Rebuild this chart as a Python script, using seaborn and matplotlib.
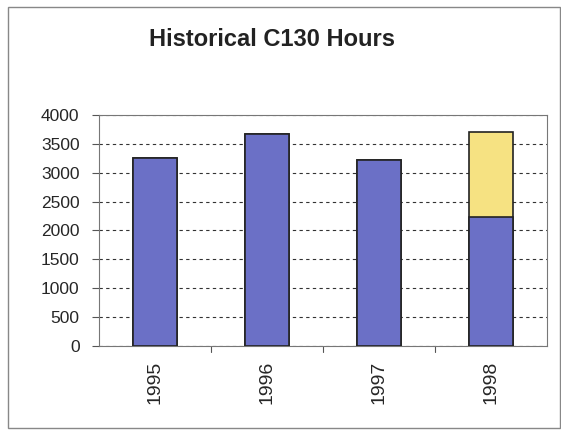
import matplotlib
matplotlib.use('Agg')
import matplotlib.pyplot as plt
import seaborn as sns
import pandas as pd

years = ['1995', '1996', '1997', '1998']
base_hours = [3250, 3665, 3215, 2240]
extra_hours = [0, 0, 0, 1460]

df = pd.DataFrame({'year': years, 'base': base_hours, 'extra': extra_hours})
df['total'] = df['base'] + df['extra']

sns.set_style('white')
plt.rcParams['font.family'] = ['Liberation Sans', 'DejaVu Sans']

fig = plt.figure(figsize=(5.61, 4.34), dpi=100)
ax = fig.add_axes([0.1765, 0.203, 0.7985, 0.532])

blue = '#6b70c6'
yellow = '#f6e282'
sns.barplot(data=df, x='year', y='total', color=yellow, width=0.39,
            edgecolor='#222222', linewidth=1.2, saturation=1, ax=ax, zorder=3)
sns.barplot(data=df, x='year', y='base', color=blue, width=0.39,
            edgecolor='#222222', linewidth=1.2, saturation=1, ax=ax, zorder=3)

ax.set_ylim(0, 4000)
ax.set_xlim(-0.5, 3.5)
ax.set_yticks(range(0, 4001, 500))
ax.tick_params(axis='y', labelsize=12.5, length=5, width=0.8, color='#555555', pad=9, left=True)
ax.tick_params(axis='x', labelsize=14, rotation=90, length=0, pad=11)
for x in [0.5, 1.5, 2.5]:
    ax.plot([x, x], [0, -0.025], transform=ax.get_xaxis_transform(),
            color='#555555', lw=0.8, clip_on=False)
ax.yaxis.grid(True, linestyle=(0, (3, 3)), color='#333333', linewidth=0.8)
ax.set_axisbelow(True)
ax.set_xlabel('')
ax.set_ylabel('')
for s in ax.spines.values():
    s.set_color('#777777')
    s.set_linewidth(0.8)

fig.text(0.484, 0.908, 'Historical C130 Hours', ha='center', va='center',
         fontsize=17, fontweight='bold', color='#222222')

border = plt.Rectangle((0.014, 0.014), 0.985, 0.97, transform=fig.transFigure,
                       fill=False, edgecolor='#888888', linewidth=1)
fig.patches.append(border)

fig.savefig('out.png', dpi=100)
